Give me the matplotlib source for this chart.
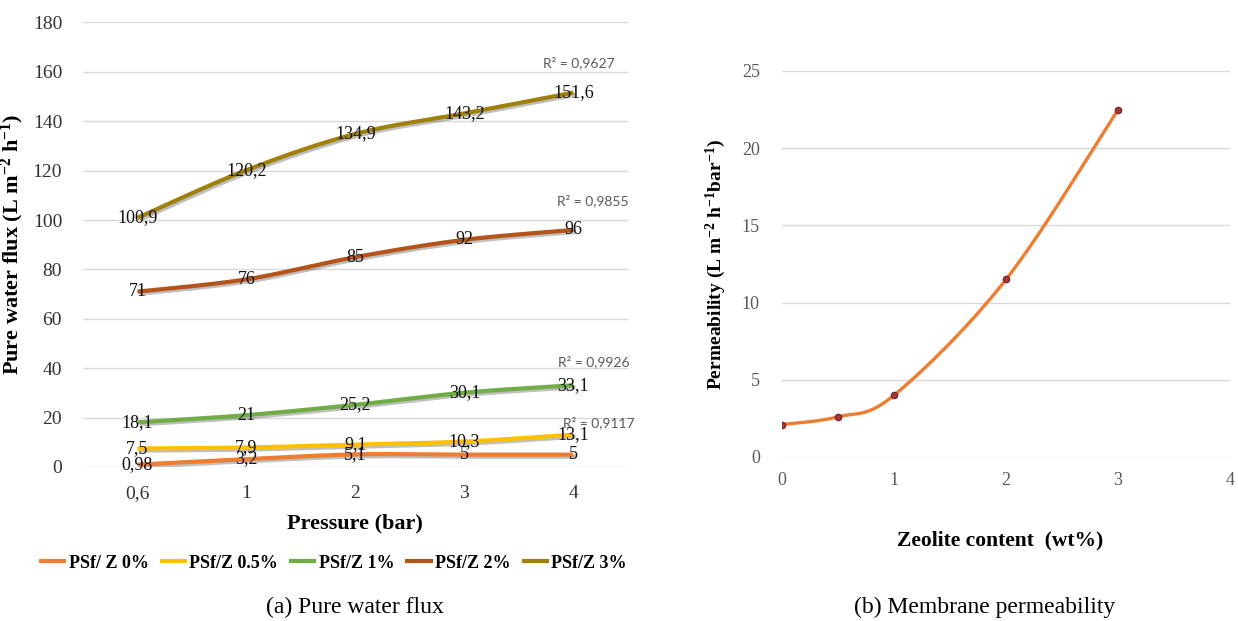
import numpy as np
import matplotlib
matplotlib.use("Agg")
import matplotlib.pyplot as plt
import matplotlib.patheffects as pe
from matplotlib.lines import Line2D

plt.rcParams['font.family'] = ['Liberation Serif', 'DejaVu Serif']
plt.rcParams['mathtext.default'] = 'regular'

# (a) pure water flux
pressure = ["0,6", "1", "2", "3", "4"]
series = ["PSf/ Z 0%", "PSf/Z 0.5%", "PSf/Z 1%", "PSf/Z 2%", "PSf/Z 3%"]
flux_0 = [0.98, 3.2, 5.1, 5, 5]
flux_05 = [7.5, 7.9, 9.1, 10.3, 13.1]
flux_1 = [18.1, 21, 25.2, 30.1, 33.1]
flux_2 = [71, 76, 85, 92, 96]
flux_3 = [100.9, 120.2, 134.9, 143.2, 151.6]
r2_text = ["R² = 0,9117", "R² = 0,9926", "R² = 0,9855", "R² = 0,9627"]
colors = ["#ED7D31", "#FFC000", "#70AD47", "#B5541A", "#A0800C"]

# (b) permeability
zeolite = [0, 0.5, 1, 2, 3]
permeability = [2.1, 2.6, 4.0, 11.5, 22.5]


def smooth(x, y, n=40):
    # excel style smoothed line (catmull-rom bezier)
    p = np.column_stack([x, y]).astype(float)
    out = []
    for i in range(len(p) - 1):
        p0 = p[i - 1] if i > 0 else p[i]
        p1, p2 = p[i], p[i + 1]
        p3 = p[i + 2] if i + 2 < len(p) else p[i + 1]
        c1 = p1 + (p2 - p0) / 6
        c2 = p2 - (p3 - p1) / 6
        t = np.linspace(0, 1, n)[:, None]
        seg = (1 - t) ** 3 * p1 + 3 * (1 - t) ** 2 * t * c1 + 3 * (1 - t) * t ** 2 * c2 + t ** 3 * p2
        out.append(seg)
    out = np.vstack(out)
    return out[:, 0], out[:, 1]


def fmt(v):
    return ("%g" % v).replace(".", ",")


fig = plt.figure(figsize=(12.38, 6.21), dpi=100)

ax = fig.add_axes([0.0670, 0.248, 0.4402, 0.7158])
xi = np.arange(len(pressure))
all_flux = [flux_0, flux_05, flux_1, flux_2, flux_3]
shadow = [pe.SimpleLineShadow(offset=(1.5, -1.5), shadow_color='k', alpha=0.25), pe.Normal()]
for vals, c in zip(all_flux, colors):
    sx, sy = smooth(xi, vals)
    ax.plot(sx, sy, color=c, lw=3, solid_capstyle='butt', path_effects=shadow, zorder=3)
for vals in all_flux:
    for x, v in zip(xi, vals):
        ax.text(x, v, fmt(v), ha='center', va='center', fontsize=13, color='#111111', zorder=5)

# trendline R² labels
r2_pos = [(4.23, 17.9), (4.19, 42.6), (4.18, 107.7), (4.05, 163.6)]
for (x, y), t in zip(r2_pos, r2_text):
    ax.text(x, y, t, ha='center', va='center', fontsize=10, color='#595959', family='Lato')

ax.set_xlim(-0.5, 4.5)
ax.set_ylim(0, 180)
ax.set_yticks(range(0, 181, 20))
ax.set_xticks(xi)
ax.set_xticklabels(pressure)
ax.grid(axis='y', color='#d9d9d9', lw=1)
ax.set_axisbelow(True)
for s in ax.spines.values():
    s.set_visible(False)
ax.tick_params(length=0, labelsize=14, labelcolor='#333333')
ax.tick_params(axis='x', pad=13)
ax.tick_params(axis='y', pad=15)
ax.set_xlabel("Pressure (bar)", fontsize=16, fontweight='bold', labelpad=8)
ax.set_ylabel("Pure water flux (L m$^{-2}$ h$^{-1}$)", fontsize=16, fontweight='bold', labelpad=5)

handles = [Line2D([0], [0], color=c, lw=3) for c in colors]
fig.legend(handles, series, loc='center', bbox_to_anchor=(334 / 1238, 1 - 563 / 621), ncol=5,
           frameon=False, handlelength=1.3, handletextpad=0.25, columnspacing=0.7,
           prop={'weight': 'bold', 'size': 13})
fig.text(355 / 1238, 1 - 607 / 621, "(a) Pure water flux", ha='center', va='center', fontsize=17)

# right panel
ax2 = fig.add_axes([0.6317, 0.2641, 0.3619, 0.6216])
sx, sy = smooth(zeolite, permeability)
ax2.plot(sx, sy, color='#ED7D31', lw=2.4, zorder=3)
ax2.plot(zeolite, permeability, 'o', color='#A8393B', markeredgecolor='#7d2628', ms=4.5, zorder=4)
ax2.set_xlim(0, 4)
ax2.set_ylim(0, 25)
ax2.set_yticks(range(0, 26, 5))
ax2.set_xticks(range(0, 5))
ax2.grid(axis='y', color='#d9d9d9', lw=1)
ax2.set_axisbelow(True)
for s in ax2.spines.values():
    s.set_visible(False)
ax2.tick_params(length=0, labelsize=13, labelcolor='#595959')
ax2.tick_params(axis='x', pad=11)
ax2.tick_params(axis='y', pad=16)
ax2.set_ylabel("Permeability (L m$^{-2}$ h$^{-1}$bar$^{-1}$)", fontsize=14, fontweight='bold', labelpad=10)
fig.text(1000 / 1238, 1 - 540 / 621, "Zeolite content  (wt%)", ha='center', va='center',
         fontsize=15.5, fontweight='bold')
fig.text(985 / 1238, 1 - 607 / 621, "(b) Membrane permeability", ha='center', va='center', fontsize=17)

fig.savefig("out.png", dpi=100, facecolor='white')
